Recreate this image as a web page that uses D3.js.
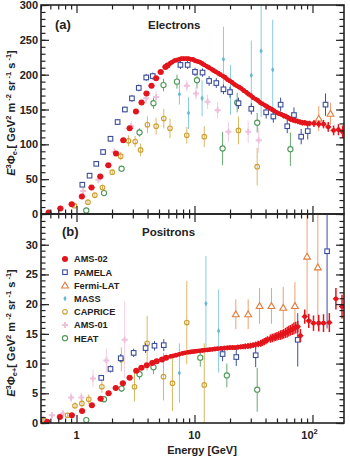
<!DOCTYPE html>
<html>
<head>
<meta charset="utf-8">
<style>
  html, body { margin: 0; padding: 0; background: #fff; }
  svg { display: block; font-family: "Liberation Sans", Arial, sans-serif; }
  .lbl { font-weight: bold; fill: #222; }
</style>
<script src="https://cdn.jsdelivr.net/npm/d3@7"></script>
</head>
<body>
<div id="main"></div>
<script>
// ---- data: [energy GeV, E^3 flux, error] ----
var amsElectron = [
  [0.58,2,1],[0.73,8,1],[0.91,14,1.5],[1.11,25,2],[1.34,38,2],[1.59,54,2],[1.86,70,2.5],
  [2.16,87,2.5],[2.49,106,3],[2.82,123,3],[3.19,147,3],[3.56,160,3],[3.92,173,3],[4.32,184,3],
  [4.73,195,3],[5.17,204,3],[5.67,211,3],[5.9,213,3],[6.2,216,3],[6.45,218,3],[6.75,220,3],
  [7.05,221,3],[7.4,222,3],[7.75,223,3],[8.1,223,3],[8.5,223,3],[8.9,223,3],[9.3,222,3],
  [9.7,222,3],[10.1,220,3],[10.6,219,3],[11.1,218,3],[11.6,216,3],[12.1,214,3],[12.7,212,3],
  [13.3,210,3],[13.9,208,3],[14.5,206,3],[15.2,204,3],[15.9,202,3],[16.6,200,3],[17.4,198,3],
  [18.2,196,3],[19,193,3],[19.9,191,3],[20.8,189,3],[21.8,186,3],[22.8,184,3],[23.9,182,3],
  [25,180,3],[26.2,177,3],[27.4,175,3],[28.7,172,3],[30,170,3],[31.4,167,3],[32.9,165,3],
  [34.4,163,3],[36,160,3],[37.7,158,3],[39.5,156,3],[41.3,154,3],[43.3,152,3],[45.3,150,3],
  [47.4,148,3],[49.6,146,3],[52,144,3],[54.4,143,3],[57,141,4],[59.6,140,4],[62.4,138,4],
  [65.3,136,4],[68.4,135,4],[71.6,134,4],[75,133,4],[78.5,132,4],[82.2,131,4],[86,131,4],
  [90,130,4],[94.3,130,4],[103,130,5],[113,129,5],[124,129,6],[136,125,7],[151,120,7],
  [166,121,8],[180,118,9]
];
var pamelaElectron = [
  [1.12,42,3],[1.29,55,3],[1.47,72,3],[1.68,89,3],[1.94,108,4],[2.23,132,4],[2.57,150,4],
  [2.95,166,5],[3.37,181,5],[3.9,196,5],[4.43,198,5],[7.6,214,6],[8.75,214,6],[10.1,204,6],
  [11.7,203,6],[13.3,191,7],[15.3,188,7],[17.6,179,7],[20,175,8],[23.6,159,8],[30.3,151,8],
  [40.5,146,9],[46.6,140,9],[53.7,157,10],[61.1,126,10],[69.7,142,11],[80.2,111,11],
  [91.2,119,12],[129,157,16]
];
var fermiElectron = [[113,137,18],[142,144,16]];
var massElectron = [
  [7.45,172,15],[8.9,145,23],[11.6,166,26],[17.6,222,47],[20.2,178,36],[30.3,199,50],
  [36.7,234,95],[46,207,72]
];
var capriceElectron = [
  [0.96,12,3],[1.25,17,3],[1.43,27,3],[1.66,38,4],[2.01,60,4],[2.37,83,6],[2.76,105,8],
  [3.14,104,8],[3.49,92,9],[3.99,128,12],[4.73,126,12],[5.49,137,14],[6.2,123,14],
  [8.6,113,12],[12.1,111,15],[23.6,120,20],[34,68,27]
];
var ams01Electron = [
  [1.14,33,4],[1.53,49,5],[2.1,89,6],[2.91,126,7],[3.9,166,7],[4.73,168,8],[8.6,184,8],
  [10.3,173,9],[12.9,161,10],[15.7,149,12],[19.4,118,14],[28.5,118,16],[35,106,18]
];
var heatElectron = [
  [1.21,5,2],[1.71,30,3],[2.41,65,4],[3.42,117,6],[4.49,159,8],[5.46,185,9],[7.1,190,10],
  [10.5,192,12],[17.3,94,24],[23,160,14],[34,131,14],[65,93,24]
];

var amsPositron = [
  [0.565,0.2,0.2],[0.723,1.0,0.2],[0.913,1.3,0.2],[1.115,2.0,0.2],[1.35,3.0,0.2],[1.6,4.1,0.2],
  [1.87,5.0,0.2],[2.15,5.9,0.3],[2.47,6.7,0.3],[2.82,7.6,0.3],[3.21,8.8,0.3],[3.55,9.3,0.3],
  [3.94,9.7,0.3],[4.38,10.1,0.3],[4.78,10.4,0.3],[5.31,10.7,0.3],[5.75,11.0,0.3],[6.28,11.2,0.3],
  [6.6,11.3,0.3],[6.97,11.4,0.3],[7.4,11.55,0.3],[7.9,11.7,0.3],[8.3,11.8,0.3],[8.8,11.9,0.3],
  [9.2,11.95,0.3],[9.6,12.0,0.3],[10.05,12.05,0.3],[10.5,12.1,0.3],[11,12.15,0.3],[11.6,12.2,0.3],
  [12.2,12.25,0.3],[12.9,12.3,0.3],[13.5,12.35,0.3],[14.2,12.4,0.3],[14.9,12.45,0.3],
  [15.7,12.5,0.3],[16.8,12.55,0.35],[17.9,12.6,0.4],[19,12.65,0.4],[20,12.7,0.4],[21,12.7,0.4],
  [22,12.7,0.4],[23.3,12.75,0.4],[24.6,12.8,0.4],[25.8,12.85,0.45],[27,12.9,0.5],[28.4,12.95,0.5],
  [29.8,13.0,0.5],[31.4,13.1,0.5],[33,13.2,0.5],[34.7,13.3,0.55],[36.4,13.4,0.6],[37.7,13.55,0.6],
  [39,13.7,0.6],[40.3,13.85,0.6],[41.6,14.0,0.6],[44,14.2,0.7],[45.6,14.3,0.7],[47.2,14.4,0.7],
  [48.6,14.5,0.7],[50,14.6,0.7],[51.8,14.7,0.75],[53.7,14.8,0.8],[55.3,14.9,0.8],[57,15.0,0.8],
  [59,15.15,0.85],[61,15.3,0.9],[63,15.45,0.9],[65,15.6,0.9],[67.3,15.75,0.95],[69.6,15.9,1.0],
  [72.2,16.05,1.0],[75,16.2,1.0],[79,14.7,1.1],[86,17.9,1.2],[93,17.2,1.2],[102,16.8,1.3],
  [113,16.8,1.4],[124,16.8,1.5],[139,16.9,1.6],[158,20.9,1.8],[178,19.6,2.0]
];
var pamelaPositron = [
  [1.62,7.6,0.5],[1.94,9.1,0.6],[2.37,10.9,0.7],[3.05,11.8,0.7],[3.85,12.6,0.8],[4.58,13.0,0.8],
  [5.49,13.1,1.0],[17.3,11.6,1.2],[22.6,11.1,1.5],[33,11.4,2],[75,14.0,4.5],[133,28.9,13]
];
var fermiPositron = [
  [22.4,18.3,2.5],[28.5,18.3,2.5],[35.6,19.7,3],[44.9,19.7,3],[56.5,19.4,3.5],[71,19.7,4],
  [90,28.0,10],[111,26.2,10]
];
var massPositron = [[7.45,8.4,5],[12.5,20.1,8],[16,15.5,7]];
var capricePositron = [
  [0.53,0.5,0.4],[0.84,1.3,0.5],[0.97,2.9,0.6],[1.11,3.3,0.7],[1.27,4.0,0.8],[1.64,6.1,1],
  [2.4,10.7,2],[3.1,6.1,2.5],[3.97,13.4,4.6],[5.46,7.8,4],[6.5,6.7,4.7],[8.6,16.9,7],
  [12.1,6.4,7]
];
var ams01Positron = [
  [0.52,0.7,0.4],[0.62,1.3,0.5],[0.77,1.6,0.5],[0.9,4.3,0.8],[1.1,4.3,0.8],[1.38,7.5,1.5],
  [1.79,10.5,2],[2.56,14.0,6.5]
];
var heatPositron = [
  [1.21,0.5,0.3],[1.71,4.0,0.5],[2.41,5.8,0.6],[3.42,8.2,0.9],[4.49,9.4,1.2],[11.2,11.0,1.5],
  [18.8,8.0,2],[34,5.6,3.7]
];

var legendNames = ["AMS-02", "PAMELA", "Fermi-LAT", "MASS", "CAPRICE", "AMS-01", "HEAT"];
var xMajor = [1, 10, 100];
var xMinor = [0.5,0.6,0.7,0.8,0.9,2,3,4,5,6,7,8,9,20,30,40,50,60,70,80,90];

// ---- layout ----
var width = 350, height = 457;
var left = 41, right = 344;
var styles = {
  "AMS-02":   {shape: "circle",  color: "#e3141b", fill: "#e3141b", size: 3, err: "#e3141b"},
  "PAMELA":   {shape: "square",  color: "#3c4e9b", fill: "#fff", size: 4.6, err: "#3c4e9b"},
  "Fermi-LAT":{shape: "triangle",color: "#e57b3c", fill: "#fff", size: 20, err: "#eea070"},
  "MASS":     {shape: "diamond", color: "#64b8d4", fill: "#64b8d4", size: 9, err: "#8ccbe0"},
  "CAPRICE":  {shape: "ocircle", color: "#cf9f32", fill: "none", size: 2.3, err: "#dcb865"},
  "AMS-01":   {shape: "cross",   color: "#eec0da", fill: "#eec0da", size: 20, err: "#f1cfe2"},
  "HEAT":     {shape: "ocircle", color: "#4f9858", fill: "#fff", size: 2.6, err: "#6aa872"}
};

var x = d3.scaleLog().domain([0.5, 185]).range([left, right]);

function drawMarker(g, st, px, py, small) {
  if (st.shape == "circle" || st.shape == "ocircle") {
    g.append("circle").attr("cx", px).attr("cy", py).attr("r", small ? 2.4 : st.size)
      .attr("fill", st.fill).attr("stroke", st.color).attr("stroke-width", st.shape == "circle" ? 0 : 1.1);
  } else if (st.shape == "square") {
    g.append("rect").attr("x", px - st.size / 2).attr("y", py - st.size / 2)
      .attr("width", st.size).attr("height", st.size)
      .attr("fill", st.fill).attr("stroke", st.color).attr("stroke-width", 1.1);
  } else {
    var sym = {triangle: d3.symbolTriangle, diamond: d3.symbolDiamond, cross: d3.symbolCross}[st.shape];
    g.append("path").attr("transform", "translate(" + px + "," + (py + (st.shape == "triangle" ? 0.6 : 0)) + ")")
      .attr("d", d3.symbol().type(sym).size(st.size)())
      .attr("fill", st.fill).attr("stroke", st.color)
      .attr("stroke-width", st.shape == "triangle" ? 1.1 : 0);
  }
}

function drawSeries(g, data, y, name) {
  var st = styles[name];
  var s = g.append("g");
  var isAms = name == "AMS-02";
  data.forEach(function(d) {
    s.append("line")
      .attr("x1", x(d[0])).attr("x2", x(d[0]))
      .attr("y1", y(d[1] - d[2])).attr("y2", y(d[1] + d[2]))
      .attr("stroke", st.err).attr("stroke-width", isAms ? 1.5 : 1);
    if (isAms) {
      s.append("line")
        .attr("x1", x(d[0]) - 3).attr("x2", x(d[0]) + 3)
        .attr("y1", y(d[1])).attr("y2", y(d[1]))
        .attr("stroke", st.err).attr("stroke-width", 1.3);
    }
  });
  data.forEach(function(d) { drawMarker(s, st, x(d[0]), y(d[1]), isAms && d[0] > 6); });
}

function drawFrame(svg, y, top, bottom, yMajor, yMinor, showX) {
  var g = svg.append("g");
  function axis(a, tr, size) {
    var ax = g.append("g").attr("transform", tr).call(a.tickSize(size).tickSizeOuter(0).tickFormat(""));
    ax.selectAll("line").attr("stroke", "#222").attr("stroke-width", 1.2);
    ax.select(".domain").remove();
    return ax;
  }
  axis(d3.axisLeft(y).tickValues(yMajor), "translate(" + left + ",0)", -8);
  axis(d3.axisLeft(y).tickValues(yMinor), "translate(" + left + ",0)", -4.5);
  axis(d3.axisRight(y).tickValues(yMajor), "translate(" + right + ",0)", -8);
  axis(d3.axisRight(y).tickValues(yMinor), "translate(" + right + ",0)", -4.5);
  axis(d3.axisBottom(x).tickValues(xMajor), "translate(0," + bottom + ")", -8);
  axis(d3.axisBottom(x).tickValues(xMinor), "translate(0," + bottom + ")", -4.5);
  axis(d3.axisTop(x).tickValues(xMajor), "translate(0," + top + ")", -8);
  axis(d3.axisTop(x).tickValues(xMinor), "translate(0," + top + ")", -4.5);
  g.append("rect").attr("x", left).attr("y", top).attr("width", right - left).attr("height", bottom - top)
    .attr("fill", "none").attr("stroke", "#222").attr("stroke-width", 1.6);
  yMajor.forEach(function(v) {
    g.append("text").attr("class", "lbl").attr("x", left - 3).attr("y", y(v) + 4)
      .attr("text-anchor", "end").attr("font-size", 11).text(v);
  });
  if (showX) {
    xMajor.forEach(function(v) {
      var t = g.append("text").attr("class", "lbl").attr("x", x(v)).attr("y", bottom + 16)
        .attr("text-anchor", "middle").attr("font-size", 11);
      if (v == 100) {
        t.attr("x", x(v) - 3);
        t.append("tspan").text("10");
        t.append("tspan").attr("dy", -5).attr("font-size", 7.5).text("2");
      } else {
        t.text(v);
      }
    });
  }
}

function yTitle(svg, cy, sign) {
  var t = svg.append("text").attr("class", "lbl").attr("font-size", 11)
    .attr("text-anchor", "middle").attr("transform", "translate(15," + cy + ") rotate(-90)");
  t.append("tspan").attr("font-style", "italic").text("E");
  t.append("tspan").attr("dy", -4).attr("font-size", 7.5).text("3");
  t.append("tspan").attr("dy", 4).text("\u03A6");
  t.append("tspan").attr("dy", 2).attr("font-size", 7.5).text("e" + sign);
  t.append("tspan").attr("dy", -2).text("[ GeV");
  t.append("tspan").attr("dy", -4).attr("font-size", 7.5).text("2");
  t.append("tspan").attr("dy", 4).text(" m");
  t.append("tspan").attr("dy", -4).attr("font-size", 7.5).text(" -2");
  t.append("tspan").attr("dy", 4).text(" sr");
  t.append("tspan").attr("dy", -4).attr("font-size", 7.5).text(" -1");
  t.append("tspan").attr("dy", 4).text(" s");
  t.append("tspan").attr("dy", -4).attr("font-size", 7.5).text(" -1");
  t.append("tspan").attr("dy", 4).text("]");
}

function panel(svg, id, top, bottom, y, series, yMajor, yMinor, showX) {
  svg.append("clipPath").attr("id", id).append("rect")
    .attr("x", left).attr("y", top).attr("width", right - left).attr("height", bottom - top);
  var g = svg.append("g").attr("clip-path", "url(#" + id + ")");
  series.forEach(function(s) { drawSeries(g, s[0], y, s[1]); });
  drawFrame(svg, y, top, bottom, yMajor, yMinor, showX);
}

function main() {
  var svg = d3.select("#main").append("svg").attr("width", width).attr("height", height);

  var yTop = d3.scaleLinear().domain([0, 300]).range([214, 5]);
  var yBot = d3.scaleLinear().domain([0, 35]).range([423, 215]);

  panel(svg, "clipA", 5, 214, yTop, [
    [heatElectron, "HEAT"], [ams01Electron, "AMS-01"], [capriceElectron, "CAPRICE"],
    [massElectron, "MASS"], [fermiElectron, "Fermi-LAT"], [pamelaElectron, "PAMELA"],
    [amsElectron, "AMS-02"]
  ], d3.range(0, 301, 50), d3.range(0, 301, 10), false);

  panel(svg, "clipB", 214, 423, yBot, [
    [heatPositron, "HEAT"], [ams01Positron, "AMS-01"], [capricePositron, "CAPRICE"],
    [massPositron, "MASS"], [fermiPositron, "Fermi-LAT"], [pamelaPositron, "PAMELA"],
    [amsPositron, "AMS-02"]
  ], d3.range(0, 31, 5), d3.range(0, 35, 1), true);

  svg.append("text").attr("class", "lbl").attr("x", 55).attr("y", 29).attr("font-size", 13).text("(a)");
  svg.append("text").attr("class", "lbl").attr("x", 148).attr("y", 29).attr("font-size", 11.5).text("Electrons");
  svg.append("text").attr("class", "lbl").attr("x", 62).attr("y", 236).attr("font-size", 13).text("(b)");
  svg.append("text").attr("class", "lbl").attr("x", 142).attr("y", 236).attr("font-size", 11.5).text("Positrons");

  yTitle(svg, 113, "-");
  yTitle(svg, 333, "+");

  svg.append("text").attr("class", "lbl").attr("x", 202).attr("y", 454)
    .attr("text-anchor", "middle").attr("font-size", 11).text("Energy  [GeV]");

  var leg = svg.append("g");
  legendNames.forEach(function(n, i) {
    var ly = 259 + i * 13.2;
    drawMarker(leg, styles[n], 65, ly, false);
    leg.append("text").attr("class", "lbl").attr("x", 74).attr("y", ly + 3.3)
      .attr("font-size", 9.2).text(n);
  });
}

main();
</script>
</body>
</html>
